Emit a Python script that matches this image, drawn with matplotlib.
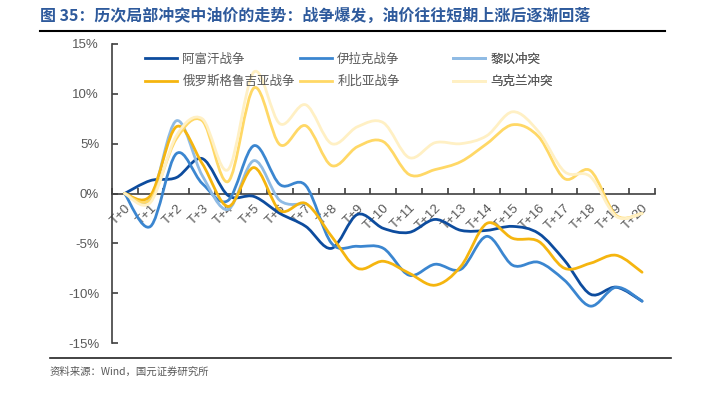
import matplotlib
matplotlib.use("Agg")
import matplotlib.pyplot as plt
from matplotlib.path import Path
from matplotlib.patches import PathPatch
from matplotlib.lines import Line2D
import numpy as np

plt.rcParams['font.family'] = ['Noto Sans CJK SC', 'DejaVu Sans']

categories = [f"T+{i}" for i in range(21)]
series_names = ["阿富汗战争", "伊拉克战争", "黎以冲突", "俄罗斯格鲁吉亚战争", "利比亚战争", "乌克兰冲突"]
afghanistan = [0, 1.3, 1.6, 3.5, -0.2, -0.3, -2.0, -3.3, -5.5, -2.1, -3.5, -3.9, -2.6, -3.7, -3.7, -3.3, -4.0, -6.7, -10.1, -9.4, -10.8]
iraq = [0, -3.3, 4.0, 1.0, -0.7, 4.8, 0.9, 0.8, -5.0, -5.3, -5.5, -8.2, -7.1, -7.6, -4.3, -7.2, -6.9, -8.7, -11.3, -9.4, -10.8]
lebanon = [0, -0.5, 7.3, 1.8, -1.6, 3.3, -0.7, -1.0]
russia_georgia = [0, -0.2, 6.7, 3.0, -1.3, 2.6, -1.7, -1.0, -4.3, -7.5, -6.8, -8.0, -9.2, -7.3, -3.0, -4.5, -4.8, -7.5, -7.0, -6.2, -7.9]
libya = [0, -0.6, 5.5, 7.3, 1.2, 10.6, 4.9, 6.8, 2.8, 4.7, 5.2, 1.9, 2.4, 3.2, 5.0, 6.9, 5.7, 1.5, 2.3, -2.2, -2.0]
ukraine = [0, -0.9, 5.8, 7.5, 2.4, 12.2, 7.0, 8.9, 5.0, 6.7, 7.1, 3.6, 5.1, 5.0, 5.8, 8.2, 6.2, 2.2, 1.7, -2.3, -2.0]
y_ticks = [15, 10, 5, 0, -5, -10, -15]
y_tick_labels = ["15%", "10%", "5%", "0%", "-5%", "-10%", "-15%"]

colors = ["#0D4C9E", "#3B86D0", "#8FBBE4", "#F5B50F", "#FFD866", "#FFF0C4"]
all_series = [afghanistan, iraq, lebanon, russia_georgia, libya, ukraine]

fig = plt.figure(figsize=(7.02, 3.94), dpi=100)
ax = fig.add_axes([111.7/702, 1-343/394, (655-111.7)/702, (343-44)/394])


def smooth_path(xs, ys):
    pts = np.column_stack([xs, ys]).astype(float)
    n = len(pts)
    verts = [tuple(pts[0])]
    codes = [Path.MOVETO]
    for i in range(n-1):
        p0 = pts[i-1] if i > 0 else pts[i]
        p1 = pts[i]
        p2 = pts[i+1]
        p3 = pts[i+2] if i+2 < n else pts[i+1]
        c1 = p1 + (p2 - p0)/6.0
        c2 = p2 - (p3 - p1)/6.0
        verts += [tuple(c1), tuple(c2), tuple(p2)]
        codes += [Path.CURVE4]*3
    return Path(verts, codes)


for vals, col, name in zip(all_series, colors, series_names):
    xs = np.arange(len(vals))
    patch = PathPatch(smooth_path(xs, vals), fill=False, edgecolor=col, lw=2.0,
                      capstyle='round', joinstyle='round', zorder=3)
    ax.add_patch(patch)

ax.set_xlim(-0.5, 20.5)
ax.set_ylim(-15, 15)

for s in ['top', 'right']:
    ax.spines[s].set_visible(False)
ax.spines['bottom'].set_position(('data', 0))
for s in ['left', 'bottom']:
    ax.spines[s].set_color('#404040')
    ax.spines[s].set_linewidth(1.2)

ax.set_yticks(y_ticks)
ax.set_yticklabels(y_tick_labels)
ax.tick_params(axis='y', direction='in', length=4, width=1.2, color='#404040',
               labelsize=9.5, labelcolor='#595959', pad=9)
for t in ax.get_yticklabels():
    t.set_fontfamily(['Liberation Sans', 'DejaVu Sans'])

ax.set_xticks(np.arange(-0.5, 21, 1.0))
ax.set_xticklabels([])
ax.tick_params(axis='x', which='major', direction='in', length=4, width=1.2, color='#404040')
ax.set_xticks(np.arange(21), minor=True)
ax.set_xticklabels(categories, minor=True, rotation=45, ha='right', va='top',
                   rotation_mode='anchor', fontsize=9.5, color='#595959',
                   family=['Liberation Sans', 'DejaVu Sans'])
ax.tick_params(axis='x', which='minor', length=0, pad=6)

# legends: three columns
handles = [Line2D([], [], color=c, lw=2.0) for c in colors]
col_x = [0.045, 0.33, 0.612]
for j in range(3):
    idx = [j, j+3]
    leg = ax.legend([handles[i] for i in idx], [series_names[i] for i in idx],
                    loc='upper left', bbox_to_anchor=(col_x[j], 1.0), frameon=False,
                    fontsize=9, handlelength=2.6, handletextpad=0.4, labelspacing=0.75,
                    borderaxespad=0.3, labelcolor='#595959')
    ax.add_artist(leg)

fig.text(40/702, 1-16/394, "图 35：历次局部冲突中油价的走势：战争爆发，油价往往短期上涨后逐渐回落",
         fontsize=11.5, fontweight='bold', color='#2E5A9C', va='center', ha='left')
fig.add_artist(Line2D([40/702, 665/702], [1-31/394, 1-31/394], transform=fig.transFigure,
                      color='black', lw=1.5))
fig.add_artist(Line2D([50/702, 671/702], [1-358/394, 1-358/394], transform=fig.transFigure,
                      color='#222222', lw=1.2))
fig.text(50/702, 1-372/394, "资料来源：Wind，国元证券研究所", fontsize=7.5, color='#595959',
         va='center', ha='left')

fig.savefig("out.png", dpi=100)
